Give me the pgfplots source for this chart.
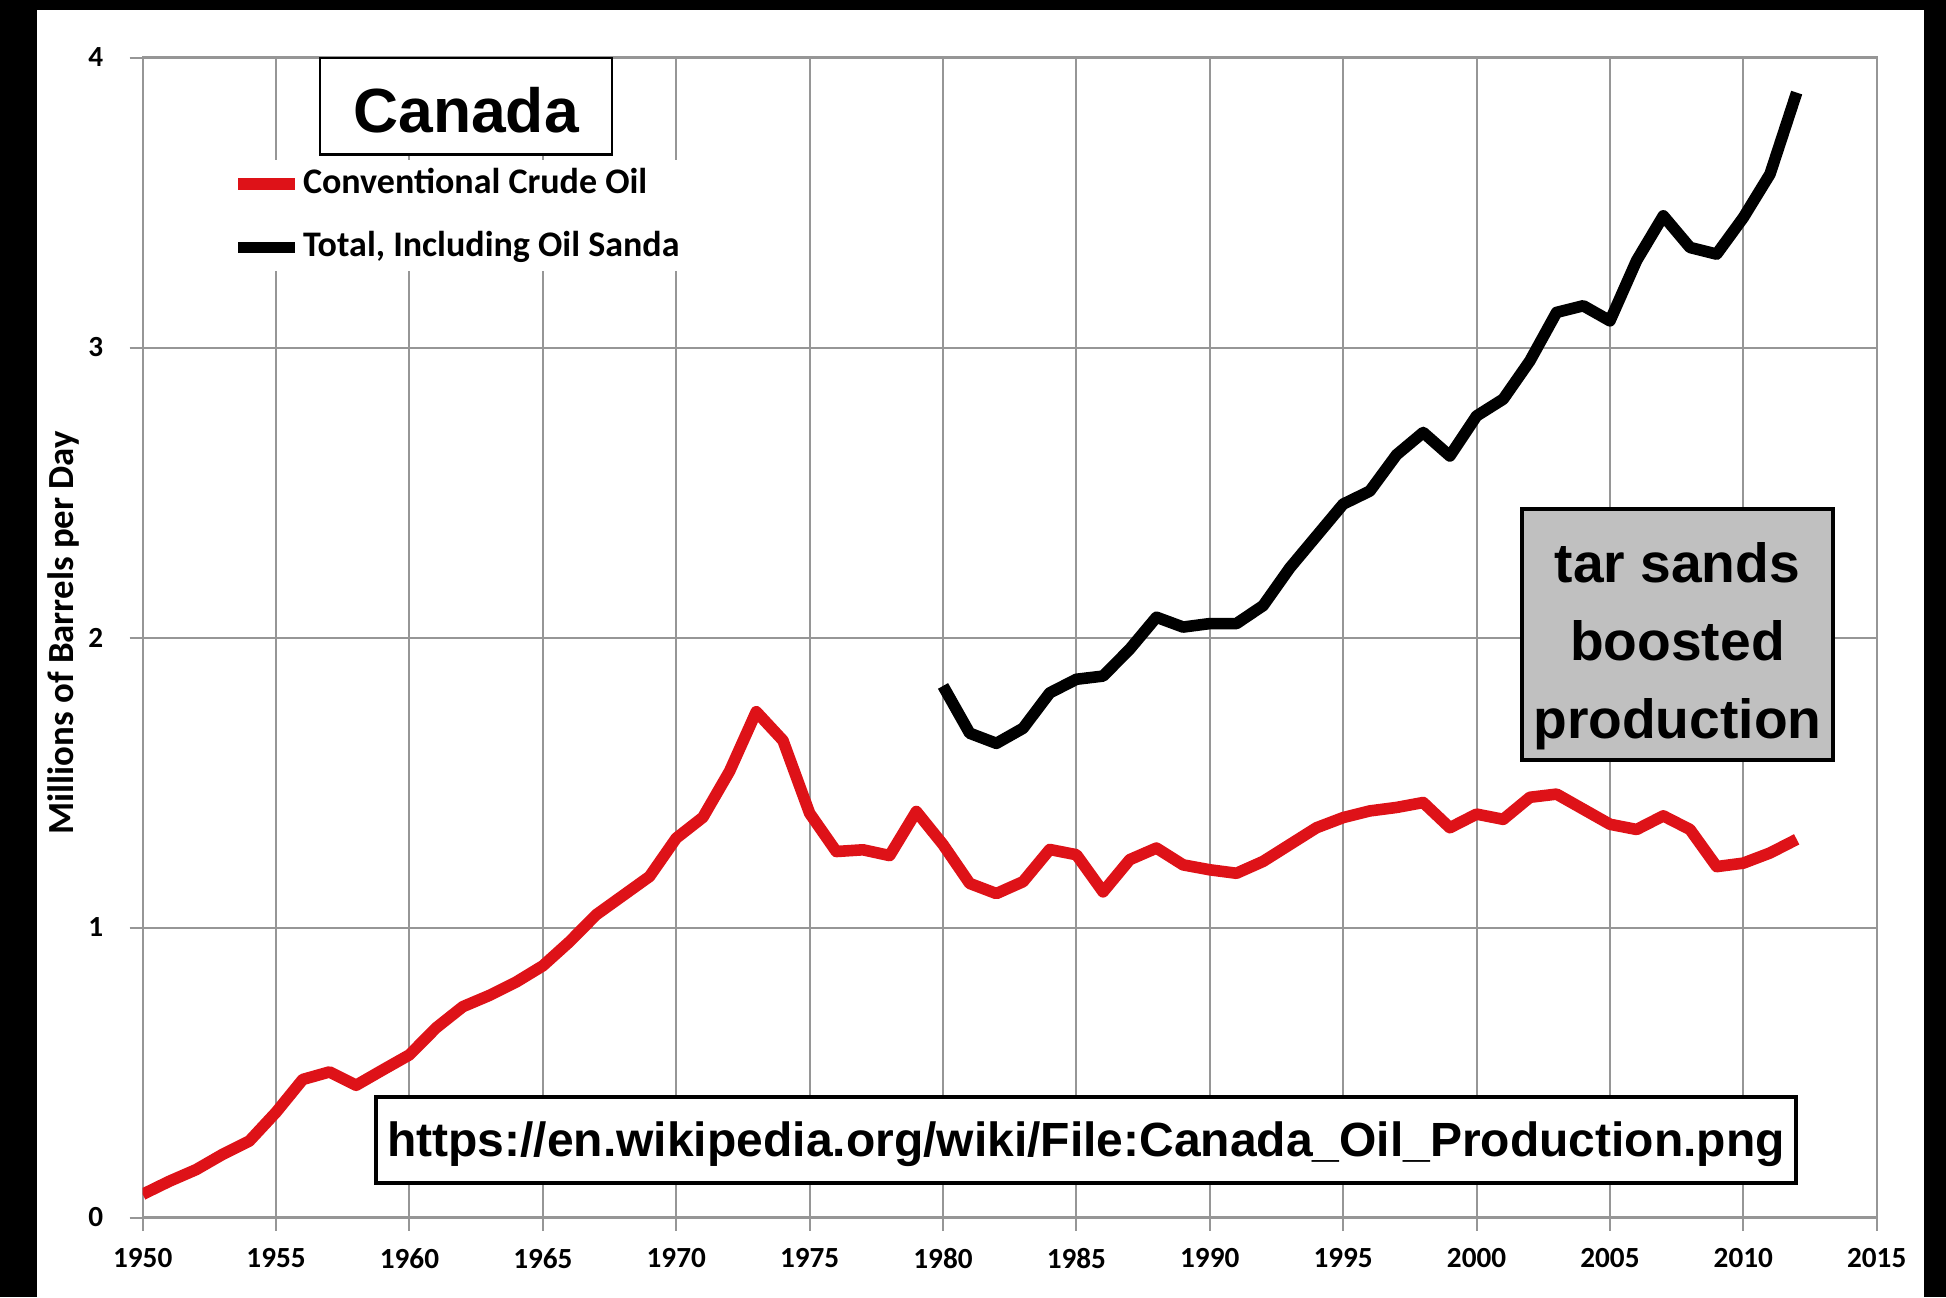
\documentclass[border=0pt]{standalone}
\usepackage{pgfplots}
\pgfplotsset{compat=1.18}
\usepackage{fontspec}
\setmainfont{Liberation Sans}
\newfontfamily\calibri{Carlito}
\definecolor{oilred}{RGB}{222,18,24}
\definecolor{gridgray}{RGB}{150,150,150}
\definecolor{boxgray}{RGB}{192,192,192}
\begin{document}
\begin{tikzpicture}
\fill[black] (0,0) rectangle (486.5pt,324.25pt);
\fill[white] (9.25pt,0) rectangle (481pt,321.75pt);
\begin{axis}[
  at={(35.675pt,19.875pt)}, anchor=south west,
  scale only axis, width=433.5pt, height=290pt,
  xmin=1950, xmax=2015, ymin=0, ymax=4,
  xtick={1950,1955,...,2015}, ytick={0,1,2,3,4},
  tick label style={font=\calibri\bfseries\fontsize{7.3}{8}\selectfont, /pgf/number format/assume math mode=true},
  xticklabel style={/pgf/number format/1000 sep={}, anchor=center, yshift=-7pt},
  yticklabel style={anchor=center, xshift=-8.5pt},
  grid=major, major grid style={gridgray, line width=0.5pt},
  axis line style={gridgray, line width=0.6pt},
  tick style={gridgray, line width=0.5pt},
  tick align=outside, tick pos=left, major tick length=3.25pt,
  ylabel={Millions of Barrels per Day},
  ylabel style={font=\calibri\bfseries\fontsize{9.2}{10}\selectfont, at={(axis description cs:-0.0455,0.504)}, anchor=center},
  legend style={at={(axis cs:1953.04,3.648)}, anchor=north west, draw=none, fill=white,
    font=\calibri\bfseries\fontsize{9}{10}\selectfont, row sep=4pt, inner xsep=2pt, inner ysep=0pt,
    nodes={inner xsep=0.5pt}, /tikz/every even column/.append style={column sep=0pt}},
  legend image code/.code={\draw[#1, line width=2.8pt] (0pt,0pt) -- (14.3pt,0pt);},
  legend cell align=left,
]
\addplot[oilred, line width=2.9pt, line join=round] coordinates {
(1950,0.08) (1951,0.125) (1952,0.165) (1953,0.218) (1954,0.264) (1955,0.363)
(1956,0.476) (1957,0.502) (1958,0.456) (1959,0.509) (1960,0.561) (1961,0.654)
(1962,0.727) (1963,0.766) (1964,0.812) (1965,0.868) (1966,0.951) (1967,1.044)
(1968,1.11) (1969,1.176) (1970,1.308) (1971,1.38) (1972,1.539) (1973,1.744)
(1974,1.645) (1975,1.394) (1976,1.262) (1977,1.268) (1978,1.248) (1979,1.40)
(1980,1.286) (1981,1.152) (1982,1.117) (1983,1.158) (1984,1.269) (1985,1.251)
(1986,1.123) (1987,1.234) (1988,1.274) (1989,1.216) (1990,1.199) (1991,1.187)
(1992,1.228) (1993,1.286) (1994,1.344) (1995,1.379) (1996,1.402) (1997,1.414)
(1998,1.431) (1999,1.344) (2000,1.391) (2001,1.373) (2002,1.449) (2003,1.46)
(2004,1.408) (2005,1.356) (2006,1.338) (2007,1.385) (2008,1.338) (2009,1.21)
(2010,1.222) (2011,1.257) (2012,1.304)
};
\addlegendentry{Conventional Crude Oil}
\addplot[black, line width=2.9pt, line join=round] coordinates {
(1980,1.833) (1981,1.67) (1982,1.635) (1983,1.687) (1984,1.809) (1985,1.856)
(1986,1.867) (1987,1.96) (1988,2.07) (1989,2.036) (1990,2.048) (1991,2.048)
(1992,2.11) (1993,2.24) (1994,2.35) (1995,2.46) (1996,2.505) (1997,2.63)
(1998,2.707) (1999,2.626) (2000,2.764) (2001,2.822) (2002,2.954) (2003,3.121)
(2004,3.144) (2005,3.092) (2006,3.30) (2007,3.454) (2008,3.345) (2009,3.322)
(2010,3.448) (2011,3.598) (2012,3.879)
};
\addlegendentry{Total, Including Oil Sanda}
\node[draw=black, line width=0.7pt, fill=white, minimum width=73pt, minimum height=24.25pt, inner sep=0pt] at (axis cs:1962.12,3.834) {};
\node[inner sep=0pt, yshift=-1.2pt, font=\bfseries\fontsize{15.6}{18}\selectfont] at (axis cs:1962.12,3.834) {Canada};
\node[draw=black, line width=1pt, fill=boxgray, minimum width=77.75pt, minimum height=62.75pt, inner sep=0pt] at (axis cs:2007.53,2.010) {};
\node[inner sep=0pt, yshift=-3pt, align=center, font=\bfseries\fontsize{13.8}{19.5}\selectfont] at (axis cs:2007.53,2.010) {tar sands\\boosted\\production};
\node[draw=black, line width=1pt, fill=white, minimum width=355pt, minimum height=21.5pt, inner sep=0pt] at (axis cs:1985.36,0.267) {};
\node[inner sep=0pt, yshift=-1pt, font=\bfseries\fontsize{12}{14}\selectfont] at (axis cs:1985.36,0.267) {https://en.wikipedia.org/wiki/File:Canada\_Oil\_Production.png};
\end{axis}
\end{tikzpicture}
\end{document}
